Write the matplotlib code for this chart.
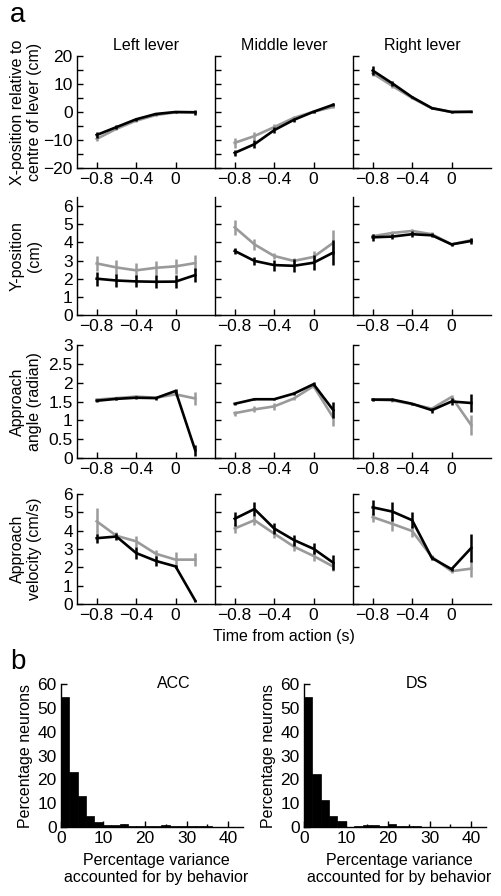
"""Lever approach kinematics (a) and variance explained histograms (b)."""
import numpy as np
import matplotlib
matplotlib.use("Agg")
import matplotlib.pyplot as plt

plt.rcParams["font.family"] = ["Liberation Sans", "DejaVu Sans"]
plt.rcParams["font.size"] = 11.5
plt.rcParams["xtick.labelsize"] = 12.5
plt.rcParams["ytick.labelsize"] = 12.5

# ---- data ---------------------------------------------------------------
t = [-0.8, -0.6, -0.4, -0.2, 0.0, 0.2]
levers = ["Left lever", "Middle lever", "Right lever"]

# X-position (cm): [left, middle, right]
xpos_black = [[-8.2, -5.4, -2.6, -0.7, 0.0, -0.1],
              [-14.6, -11.5, -6.5, -2.8, 0.1, 2.6],
              [14.8, 10.2, 5.3, 1.4, 0.0, 0.1]]
xpos_black_err = [[1.0, 0.6, 0.5, 0.3, 0.4, 0.8],
                  [1.2, 1.5, 1.0, 0.6, 0.3, 0.5],
                  [1.5, 1.0, 0.4, 0.2, 0.2, 0.2]]
xpos_gray = [[-9.6, -6.0, -3.1, -1.1, -0.1, -0.1],
             [-11.0, -8.6, -5.4, -2.1, 0.1, 1.8],
             [13.8, 9.3, 5.0, 1.3, 0.0, 0.0]]
xpos_gray_err = [[0.6, 0.5, 0.4, 0.3, 0.3, 0.3],
                 [1.7, 1.5, 1.0, 0.6, 0.3, 0.4],
                 [1.0, 0.8, 0.4, 0.2, 0.2, 0.2]]

# Y-position (cm)
ypos_black = [[2.0, 1.9, 1.85, 1.83, 1.84, 2.2],
              [3.53, 2.98, 2.75, 2.71, 2.88, 3.44],
              [4.28, 4.32, 4.45, 4.39, 3.89, 4.08]]
ypos_black_err = [[0.39, 0.35, 0.33, 0.35, 0.35, 0.38],
                  [0.15, 0.2, 0.3, 0.35, 0.4, 0.68],
                  [0.18, 0.15, 0.15, 0.12, 0.08, 0.15]]
ypos_gray = [[2.84, 2.62, 2.46, 2.6, 2.68, 2.86],
             [4.83, 3.89, 3.25, 2.98, 3.2, 3.98],
             [4.34, 4.52, 4.63, 4.45, 3.89, 4.12]]
ypos_gray_err = [[0.42, 0.4, 0.38, 0.4, 0.4, 0.42],
                 [0.43, 0.3, 0.15, 0.15, 0.3, 0.7],
                 [0.1, 0.1, 0.1, 0.1, 0.08, 0.1]]

# Approach angle (radian)
ang_black = [[1.52, 1.57, 1.6, 1.59, 1.78, 0.2],
             [1.44, 1.56, 1.56, 1.71, 1.96, 1.27],
             [1.55, 1.55, 1.44, 1.27, 1.5, 1.46]]
ang_black_err = [[0.04, 0.04, 0.04, 0.04, 0.05, 0.15],
                 [0.03, 0.03, 0.03, 0.04, 0.05, 0.22],
                 [0.04, 0.03, 0.03, 0.07, 0.08, 0.24]]
ang_gray = [[1.55, 1.59, 1.63, 1.6, 1.69, 1.58],
            [1.19, 1.29, 1.37, 1.58, 1.91, 1.07],
            [1.55, 1.53, 1.43, 1.31, 1.62, 0.87]]
ang_gray_err = [[0.04, 0.04, 0.04, 0.04, 0.05, 0.18],
                [0.07, 0.08, 0.09, 0.05, 0.05, 0.22],
                [0.04, 0.03, 0.03, 0.05, 0.06, 0.26]]

# Approach velocity (cm/s)
vel_black = [[3.59, 3.68, 2.78, 2.35, 2.05, 0.18],
             [4.65, 5.18, 4.12, 3.49, 3.01, 2.25],
             [5.27, 5.04, 4.57, 2.51, 1.9, 3.06]]
vel_black_err = [[0.25, 0.2, 0.33, 0.25, 0.1, 0.05],
                 [0.39, 0.36, 0.3, 0.3, 0.3, 0.4],
                 [0.4, 0.5, 0.45, 0.1, 0.1, 0.78]]
vel_gray = [[4.51, 3.72, 3.42, 2.74, 2.42, 2.42],
            [4.12, 4.57, 3.84, 3.13, 2.62, 2.04],
            [4.74, 4.37, 3.98, 2.57, 1.79, 1.93]]
vel_gray_err = [[0.72, 0.2, 0.3, 0.2, 0.44, 0.35],
                [0.25, 0.25, 0.25, 0.25, 0.25, 0.25],
                [0.25, 0.4, 0.3, 0.1, 0.1, 0.47]]

# Histograms: % neurons per 2%-wide bin of variance explained (0..44)
bin_edges = list(range(0, 44, 2))
acc_pct = [54.7, 22.9, 13.0, 4.6, 2.1, 1.0, 0.8, 1.1, 0.4, 0.4, 0.4,
           0.4, 0.7, 0.3, 0.3, 0.3, 0.6, 0.3, 0.2, 0.2, 0.2, 0.0]
ds_pct = [54.4, 22.2, 11.5, 4.5, 2.4, 0.1, 0.4, 0.9, 0.7, 0.3, 1.2,
          0.4, 0.6, 0.6, 0.2, 0.2, 0.2, 0.2, 0.2, 0.2, 0.2, 0.0]

rows = [
    (xpos_black, xpos_black_err, xpos_gray, xpos_gray_err, (-20, 20),
     np.arange(-20, 21, 5), [-20, -10, 0, 10, 20],
     "X-position relative to\ncentre of lever (cm)"),
    (ypos_black, ypos_black_err, ypos_gray, ypos_gray_err, (0, 6.5),
     np.arange(0, 7, 1), [0, 1, 2, 3, 4, 5, 6], "Y-position\n(cm)"),
    (ang_black, ang_black_err, ang_gray, ang_gray_err, (0, 3),
     np.arange(0, 3.01, 0.5), [0, 0.5, 1, 1.5, 2, 2.5, 3],
     "Approach\nangle (radian)"),
    (vel_black, vel_black_err, vel_gray, vel_gray_err, (0, 6),
     np.arange(0, 7, 1), [0, 1, 2, 3, 4, 5, 6], "Approach\nvelocity (cm/s)"),
]

W, H = 501, 896
GRAY = "#9a9a9a"


def px_axes(fig, left, top, right, bottom):
    return fig.add_axes([left / W, 1 - bottom / H, (right - left) / W, (bottom - top) / H])


def style(ax):
    for s in ("top", "right"):
        ax.spines[s].set_visible(False)
    for s in ("left", "bottom"):
        ax.spines[s].set_linewidth(1.0)
    ax.tick_params(direction="in", length=4, width=1, pad=3)


def fmt(v):
    return f"{v:g}".replace("-", "\u2212")


fig = plt.figure(figsize=(W / 100, H / 100), dpi=100)

col_x = [(77, 215), (215, 353), (353, 491)]
row_y = [(56, 168), (197, 315), (345, 458), (494, 604)]

for r, (blk, blk_e, gry, gry_e, ylim, yt, ytl, ylab) in enumerate(rows):
    for c in range(3):
        ax = px_axes(fig, col_x[c][0], row_y[r][0], col_x[c][1], row_y[r][1])
        style(ax)
        ax.errorbar(t, gry[c], yerr=gry_e[c], color=GRAY, lw=1.9, elinewidth=1.8,
                    capsize=0, zorder=2)
        ax.errorbar(t, blk[c], yerr=blk_e[c], color="black", lw=1.9, elinewidth=1.8,
                    capsize=0, zorder=3)
        ax.set_xlim(-1.0, 0.4)
        ax.set_ylim(*ylim)
        ax.set_xticks([-0.8, -0.4, 0])
        ax.set_xticklabels(["\u22120.8", "\u22120.4", "0"])
        ax.set_yticks(yt)
        if c == 0:
            ax.set_yticklabels([fmt(v) if any(abs(v - m) < 1e-9 for m in ytl) else ""
                                for v in yt])
        else:
            ax.set_yticklabels([])
        if r == 0:
            ax.set_title(levers[c], pad=4, fontsize=11.5)
        if r == 3 and c == 1:
            ax.set_xlabel("Time from action (s)", labelpad=4)
    ymid = (row_y[r][0] + row_y[r][1]) / 2
    fig.text(26 / W, 1 - ymid / H, ylab, rotation=90, ha="center", va="center",
             multialignment="center", linespacing=1.2)

fig.text(10 / W, 1 - 15 / H, "a", fontsize=20, ha="left", va="center")
fig.text(10 / W, 1 - 662 / H, "b", fontsize=20, ha="left", va="center")

hists = [("ACC", acc_pct, 61, 243, 156), ("DS", ds_pct, 304, 486, 399)]
for name, pct, left, right, xlab_c in hists:
    ax = px_axes(fig, left, 684, right, 827)
    style(ax)
    ax.bar(bin_edges, pct, width=2, align="edge", color="black", edgecolor="black",
           linewidth=0.5)
    ax.set_xlim(0, 43.5)
    ax.set_ylim(0, 60)
    ax.set_xticks([0, 10, 20, 30, 40])
    ax.set_xticks([5, 15, 25, 35], minor=True)
    ax.tick_params(which="minor", direction="in", length=2.5, width=1)
    ax.set_yticks(range(0, 61, 10))
    ax.text(0.62, 1.0, name, transform=ax.transAxes, ha="center", va="center")
    ax.set_ylabel("Percentage neurons", labelpad=3)
    fig.text(xlab_c / W, 1 - 869 / H, "Percentage variance\naccounted for by behavior",
             ha="center", va="center", multialignment="center", linespacing=1.15)

fig.savefig("out.png", dpi=100)
